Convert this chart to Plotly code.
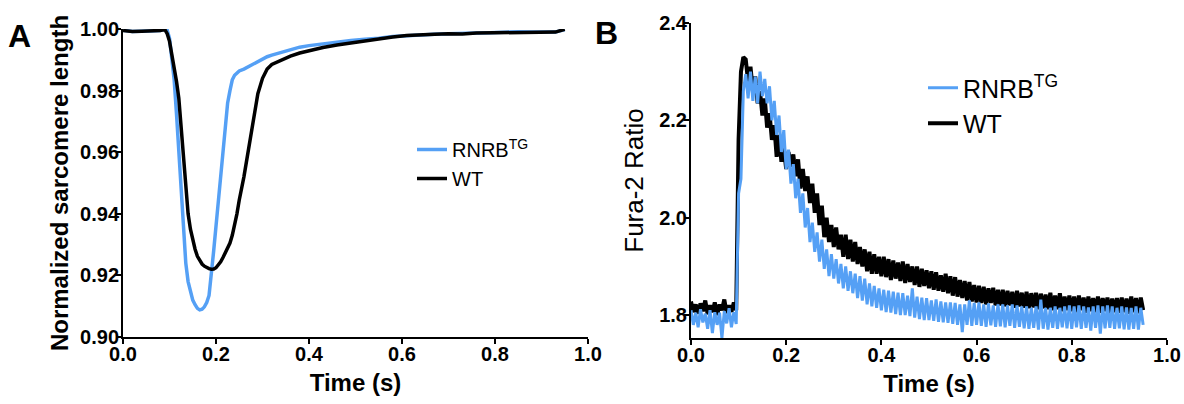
import plotly.graph_objects as go

# ---- Panel A: normalized sarcomere length ----
time_a = [0.0, 0.02, 0.04, 0.06, 0.08, 0.09, 0.095, 0.10, 0.105, 0.11,
          0.115, 0.12, 0.125, 0.13, 0.135, 0.14, 0.145, 0.15, 0.155, 0.16,
          0.165, 0.17, 0.175, 0.18, 0.185, 0.19, 0.195, 0.20, 0.205, 0.21,
          0.215, 0.22, 0.225, 0.23, 0.235, 0.24, 0.245, 0.25, 0.26, 0.27,
          0.28, 0.29, 0.30, 0.31, 0.32, 0.34, 0.36, 0.38, 0.40, 0.43,
          0.46, 0.49, 0.52, 0.55, 0.58, 0.61, 0.64, 0.67, 0.70, 0.73,
          0.76, 0.79, 0.82, 0.85, 0.88, 0.91, 0.93, 0.95]

length_rnrb = [0.9996, 0.9992, 0.9993, 0.9994, 0.9995, 1.0000, 0.9996, 0.9970, 0.9905, 0.9835,
               0.9725, 0.9600, 0.9450, 0.9330, 0.9240, 0.9180, 0.9145, 0.9120, 0.9105, 0.9093,
               0.9088, 0.9090, 0.9098, 0.9112, 0.9135, 0.9200, 0.9280, 0.9360, 0.9440, 0.9540,
               0.9625, 0.9700, 0.9760, 0.9800, 0.9835, 0.9850, 0.9858, 0.9864, 0.9870, 0.9878,
               0.9887, 0.9895, 0.9903, 0.9910, 0.9915, 0.9924, 0.9934, 0.9941, 0.9946, 0.9952,
               0.9958, 0.9963, 0.9967, 0.9970, 0.9976, 0.9979, 0.9981, 0.9983, 0.9985, 0.9985,
               0.9987, 0.9988, 0.9990, 0.9991, 0.9990, 0.9991, 0.9990, 0.9998]

length_wt = [0.9995, 0.9992, 0.9993, 0.9993, 0.9995, 0.9998, 0.9985, 0.9960, 0.9920, 0.9880,
             0.9830, 0.9775, 0.9680, 0.9580, 0.9460, 0.9400, 0.9350, 0.9310, 0.9285, 0.9262,
             0.9248, 0.9237, 0.9230, 0.9225, 0.9222, 0.9220, 0.9221, 0.9225, 0.9233, 0.9244,
             0.9258, 0.9272, 0.9288, 0.9305, 0.9330, 0.9360, 0.9400, 0.9445, 0.9520, 0.9610,
             0.9705, 0.9790, 0.9840, 0.9870, 0.9885, 0.9900, 0.9912, 0.9922, 0.9930, 0.9940,
             0.9948, 0.9955, 0.9962, 0.9968, 0.9974, 0.9979, 0.9980, 0.9983, 0.9985, 0.9984,
             0.9987, 0.9988, 0.9989, 0.9990, 0.9991, 0.9991, 0.9990, 0.9999]

# ---- Panel B: Fura-2 ratio, sampled every 5 ms from t = 0 ----
fura_t0 = 0.0
fura_dt = 0.005

fura_wt = [1.828, 1.806, 1.822, 1.803, 1.824, 1.808, 1.830, 1.802, 1.820, 1.806,
           1.826, 1.800, 1.822, 1.810, 1.832, 1.804, 1.820, 1.807, 1.826, 1.810,
           2.160, 2.300, 2.330, 2.325, 2.280, 2.310, 2.260, 2.290, 2.235, 2.260,
           2.210, 2.245, 2.185, 2.215, 2.160, 2.190, 2.125, 2.170, 2.115, 2.145,
           2.100, 2.135, 2.105, 2.130, 2.085, 2.120, 2.060, 2.100, 2.055, 2.085,
           2.030, 2.070, 2.010, 2.050, 1.985, 2.025, 1.960, 2.000, 1.950, 1.985,
           1.940, 1.980, 1.935, 1.965, 1.920, 1.965, 1.915, 1.955, 1.910, 1.950,
           1.905, 1.940, 1.900, 1.935, 1.890, 1.930, 1.885, 1.925, 1.885, 1.920,
           1.880, 1.920, 1.878, 1.915, 1.872, 1.912, 1.875, 1.908, 1.870, 1.910,
           1.866, 1.905, 1.868, 1.900, 1.862, 1.900, 1.858, 1.895, 1.860, 1.892,
           1.855, 1.890, 1.852, 1.888, 1.850, 1.882, 1.848, 1.885, 1.845, 1.880,
           1.840, 1.878, 1.838, 1.872, 1.835, 1.870, 1.830, 1.868, 1.828, 1.862,
           1.826, 1.860, 1.825, 1.858, 1.822, 1.855, 1.825, 1.856, 1.820, 1.852,
           1.820, 1.852, 1.818, 1.850, 1.820, 1.848, 1.815, 1.850, 1.818, 1.846,
           1.815, 1.848, 1.814, 1.845, 1.816, 1.846, 1.812, 1.844, 1.814, 1.842,
           1.812, 1.846, 1.810, 1.840, 1.812, 1.845, 1.808, 1.838, 1.810, 1.840,
           1.808, 1.838, 1.806, 1.840, 1.810, 1.836, 1.805, 1.838, 1.808, 1.835,
           1.806, 1.838, 1.805, 1.835, 1.808, 1.836, 1.804, 1.834, 1.806, 1.835,
           1.805, 1.836, 1.806, 1.834, 1.803, 1.838, 1.806, 1.835, 1.804, 1.836,
           1.810]

fura_rnrb = [1.810, 1.780, 1.805, 1.775, 1.812, 1.785, 1.803, 1.772, 1.810, 1.763,
             1.806, 1.780, 1.805, 1.753, 1.808, 1.783, 1.814, 1.775, 1.806, 1.782,
             2.050, 2.080, 2.260, 2.295, 2.245, 2.300, 2.240, 2.290, 2.235, 2.300,
             2.250, 2.285, 2.235, 2.270, 2.200, 2.240, 2.170, 2.210, 2.135, 2.180,
             2.100, 2.140, 2.070, 2.110, 2.040, 2.080, 2.010, 2.050, 1.980, 2.020,
             1.950, 1.990, 1.930, 1.970, 1.910, 1.955, 1.895, 1.935, 1.880, 1.925,
             1.875, 1.915, 1.865, 1.905, 1.855, 1.900, 1.850, 1.890, 1.845, 1.885,
             1.835, 1.880, 1.830, 1.875, 1.822, 1.865, 1.818, 1.860, 1.815, 1.855,
             1.810, 1.852, 1.806, 1.850, 1.805, 1.848, 1.802, 1.846, 1.800, 1.845,
             1.800, 1.840, 1.798, 1.855, 1.795, 1.838, 1.792, 1.836, 1.790, 1.835,
             1.790, 1.830, 1.788, 1.832, 1.786, 1.828, 1.785, 1.826, 1.784, 1.826,
             1.782, 1.825, 1.780, 1.822, 1.765, 1.822, 1.780, 1.830, 1.778, 1.825,
             1.780, 1.826, 1.778, 1.822, 1.776, 1.824, 1.779, 1.820, 1.776, 1.822,
             1.777, 1.822, 1.775, 1.820, 1.778, 1.822, 1.774, 1.820, 1.776, 1.818,
             1.773, 1.818, 1.772, 1.815, 1.774, 1.818, 1.770, 1.832, 1.772, 1.815,
             1.770, 1.815, 1.774, 1.818, 1.772, 1.815, 1.775, 1.818, 1.773, 1.820,
             1.772, 1.818, 1.775, 1.820, 1.772, 1.818, 1.774, 1.816, 1.768, 1.818,
             1.774, 1.820, 1.762, 1.818, 1.773, 1.820, 1.774, 1.818, 1.772, 1.815,
             1.773, 1.818, 1.771, 1.816, 1.770, 1.815, 1.772, 1.818, 1.770, 1.815,
             1.780]

series_names = ["RNRB<sup>TG</sup>", "WT"]
BLUE = "#55a0f5"
BLACK = "#000000"
FONT = "Arial, 'Liberation Sans', sans-serif"

fig = go.Figure()

# panel A (black drawn over blue)
fig.add_trace(go.Scatter(x=time_a, y=length_rnrb, mode="lines", name=series_names[0],
                         line=dict(color=BLUE, width=3.5), xaxis="x", yaxis="y", legend="legend"))
fig.add_trace(go.Scatter(x=time_a, y=length_wt, mode="lines", name=series_names[1],
                         line=dict(color=BLACK, width=3.5), xaxis="x", yaxis="y", legend="legend"))

# panel B (blue drawn over black)
fig.add_trace(go.Scatter(x0=fura_t0, dx=fura_dt, y=fura_wt, mode="lines", name=series_names[1],
                         line=dict(color=BLACK, width=4), xaxis="x2", yaxis="y2",
                         legend="legend2", legendrank=2))
fig.add_trace(go.Scatter(x0=fura_t0, dx=fura_dt, y=fura_rnrb, mode="lines", name=series_names[0],
                         line=dict(color=BLUE, width=3), xaxis="x2", yaxis="y2",
                         legend="legend2", legendrank=1))

axis_common = dict(showline=True, linecolor="black", linewidth=2, ticks="outside",
                   ticklen=5, tickwidth=2, tickcolor="black", showgrid=False, zeroline=False,
                   automargin=False,
                   tickfont=dict(family=FONT, size=20, color="black", weight="bold"))
title_bold = dict(family=FONT, size=24, color="black", weight="bold")

fig.update_layout(
    width=1184, height=404,
    margin=dict(l=0, r=0, t=0, b=0, autoexpand=False),
    paper_bgcolor="white", plot_bgcolor="white",
    font=dict(family=FONT, color="black"),
    xaxis=dict(domain=[0.1039, 0.4966], range=[0, 1], tickvals=[0, 0.2, 0.4, 0.6, 0.8, 1.0],
               tickformat=".1f", anchor="y", ticklabelstandoff=-7,
               title=dict(text="Time (s)", standoff=10, font=title_bold),
               **axis_common),
    yaxis=dict(domain=[0.1658, 0.9282], range=[0.90, 1.00],
               tickvals=[0.90, 0.92, 0.94, 0.96, 0.98, 1.00], tickformat=".2f", anchor="x",
               ticklabelstandoff=-7,
               title=dict(text="Normalized sarcomere length", standoff=5, font=title_bold),
               **axis_common),
    xaxis2=dict(domain=[0.5836, 0.9856], range=[0, 1], tickvals=[0, 0.2, 0.4, 0.6, 0.8, 1.0],
                tickformat=".1f", anchor="y2", ticklabelstandoff=-7,
                title=dict(text="Time (s)", standoff=10, font=title_bold),
                **axis_common),
    yaxis2=dict(domain=[0.1634, 0.9431], range=[1.753, 2.4],
                tickvals=[1.8, 2.0, 2.2, 2.4], tickformat=".1f", anchor="x2",
                ticklabelstandoff=-7,
                title=dict(text="Fura-2 Ratio", standoff=8,
                           font=dict(family=FONT, size=26, color="black")),
                **axis_common),
    legend=dict(x=412 / 1184, y=1 - 130 / 404, xanchor="left", yanchor="top",
                bgcolor="rgba(0,0,0,0)", font=dict(family=FONT, size=20, color="black")),
    legend2=dict(x=923 / 1184, y=1 - 65 / 404, xanchor="left", yanchor="top",
                 bgcolor="rgba(0,0,0,0)", font=dict(family=FONT, size=25, color="black")),
    annotations=[
        dict(text="A", x=6 / 1184, y=1 - 36 / 404, xref="paper", yref="paper",
             xanchor="left", yanchor="middle", showarrow=False,
             font=dict(family=FONT, size=32, color="black", weight="bold")),
        dict(text="B", x=593 / 1184, y=1 - 33 / 404, xref="paper", yref="paper",
             xanchor="left", yanchor="middle", showarrow=False,
             font=dict(family=FONT, size=32, color="black", weight="bold")),
    ],
)

# the page body has a default 8px margin; drop it so the figure fills the window
fig.write_html("out.html", config=dict(displayModeBar=False),
               post_script="document.body.style.margin = '0';")
